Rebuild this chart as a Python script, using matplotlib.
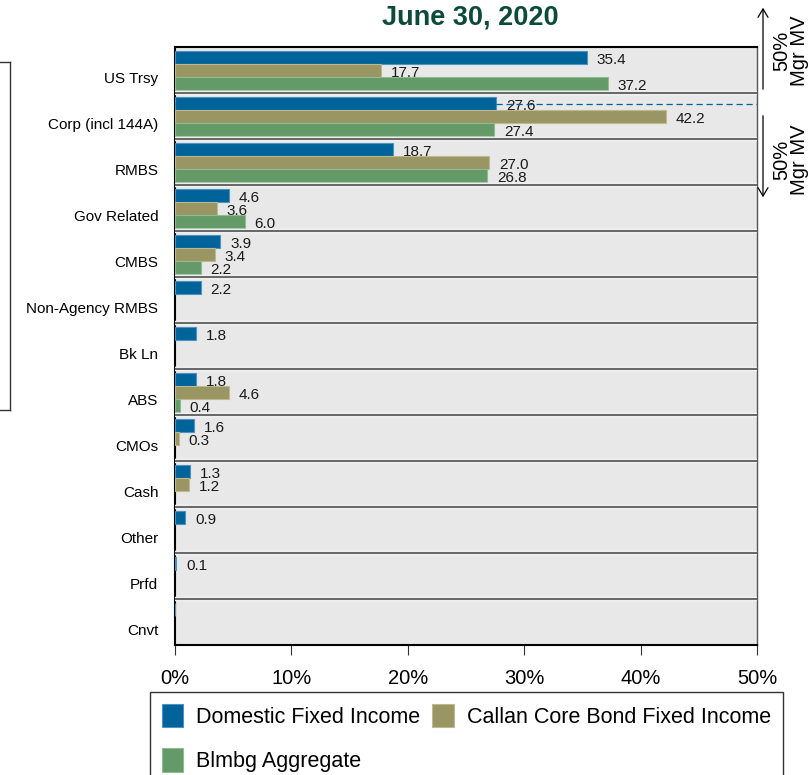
import numpy as np
import matplotlib
matplotlib.use("Agg")
import matplotlib.pyplot as plt
from matplotlib.lines import Line2D
from matplotlib.patches import Patch, FancyArrowPatch

plt.rcParams['font.family'] = ['Liberation Sans', 'DejaVu Sans']

# Asset class weights (%), June 30, 2020
categories = ["US Trsy", "Corp (incl 144A)", "RMBS", "Gov Related", "CMBS",
              "Non-Agency RMBS", "Bk Ln", "ABS", "CMOs", "Cash", "Other",
              "Prfd", "Cnvt"]
domestic = [35.4, 27.6, 18.7, 4.6, 3.9, 2.2, 1.8, 1.8, 1.6, 1.3, 0.9, 0.1, 0.03]
callan = [17.7, 42.2, 27.0, 3.6, 3.4, 0, 0, 4.6, 0.3, 1.2, 0, 0, 0]
blmbg = [37.2, 27.4, 26.8, 6.0, 2.2, 0, 0, 0.4, 0, 0, 0, 0, 0]
series_names = ["Domestic Fixed Income", "Callan Core Bond Fixed Income",
                "Blmbg Aggregate"]
colors = ["#00639a", "#9a9664", "#649a68"]
edge_colors = ["#4d93c0", "#bdb98e", "#8fbb92"]

fig = plt.figure(figsize=(8.11, 7.75), dpi=100)
ax = fig.add_axes([0.2158, 0.1677, 0.7176, 0.7717])
ax.set_facecolor("#e8e8e8")

y = np.arange(len(categories))
offsets = [-0.27, 0.01, 0.29]
bar_h = 0.28

for vals, off, col, ec in zip([domestic, callan, blmbg], offsets, colors,
                              edge_colors):
    for yi, v in zip(y, vals):
        if v <= 0:
            continue
        ax.barh(yi + off, v, height=bar_h, color=col, edgecolor=ec, lw=0.8,
                zorder=3)
        if v >= 0.05:
            ax.text(v + 0.85, yi + off + 0.06, f"{v:.1f}", ha="left",
                    va="center", fontsize=11, color="#1a1a1a", zorder=2)

# row separators
for b in y[:-1] + 0.5:
    ax.axhline(b, color="white", lw=3.2, zorder=4)
    ax.axhline(b, color="#6a6a6a", lw=1.6, zorder=4)

# dashed reference at the Domestic corporate weight
ax.hlines(1 + offsets[0], domestic[1], 50, colors="#00639a", lw=0.9,
          linestyles=(0, (5, 3)), zorder=5)

ax.set_xlim(0, 50)
ax.set_ylim(len(categories) - 0.5, -0.5)
ax.set_xticks(np.arange(0, 51, 10))
ax.set_xticklabels([f"{t}%" for t in range(0, 51, 10)], fontsize=14.5)
ax.tick_params(axis="x", direction="out", length=7, width=0.8, pad=10,
               color="#333333")
ax.set_yticks(y + 0.17)
ax.set_yticklabels(categories, fontsize=11)
ax.tick_params(axis="y", length=0, pad=12)

for side in ["left", "top", "bottom"]:
    ax.spines[side].set_color("black")
    ax.spines[side].set_linewidth(1.5)
ax.spines["right"].set_color("#555555")
ax.spines["right"].set_linewidth(1.0)

fig.text(0.5795, 0.977, "June 30, 2020", ha="center", va="center",
         fontsize=19.5, fontweight="bold", color="#0d4a3a")

# manager market value brackets on the right
H = 775.0
W = 811.0
for ya, yb in [(92, 5), (113, 200)]:
    fig.add_artist(FancyArrowPatch(
        (763 / W, 1 - ya / H), (763 / W, 1 - yb / H),
        transform=fig.transFigure,
        arrowstyle="->,head_length=0.5,head_width=0.3", lw=0.9,
        color="black", mutation_scale=12))
fig.text(791 / W, 1 - 51 / H, "50%\nMgr MV", rotation=90, ha="center",
         va="center", fontsize=14.5, linespacing=0.92)
fig.text(791 / W, 1 - 160 / H, "50%\nMgr MV", rotation=90, ha="center",
         va="center", fontsize=14.5, linespacing=0.92)

# frame of the neighbouring panel
for (x0, y0), (x1, y1) in [((0, 62), (10, 62)), ((10, 62), (10, 410)),
                           ((0, 410), (10, 410))]:
    fig.add_artist(Line2D([x0 / W, x1 / W], [1 - y0 / H, 1 - y1 / H],
                          transform=fig.transFigure, color="#333333", lw=1.0))

# legend filled row by row: Domestic, Callan / Blmbg
order = [0, 2, 1]
handles = [Patch(facecolor=colors[i], edgecolor=edge_colors[i], lw=0.8)
           for i in order]
labels = [series_names[i] for i in order]
leg = fig.legend(handles, labels, loc="upper left",
                 bbox_to_anchor=(150 / W, 1 - 692 / H), ncol=2, fontsize=15.5,
                 frameon=True, fancybox=False, edgecolor="black",
                 handlelength=1.0, handleheight=1.3, handletextpad=0.6,
                 columnspacing=0.55, labelspacing=0.95, borderpad=0.55,
                 borderaxespad=0)
leg.get_frame().set_linewidth(1.0)

fig.savefig("out.png", dpi=100)
